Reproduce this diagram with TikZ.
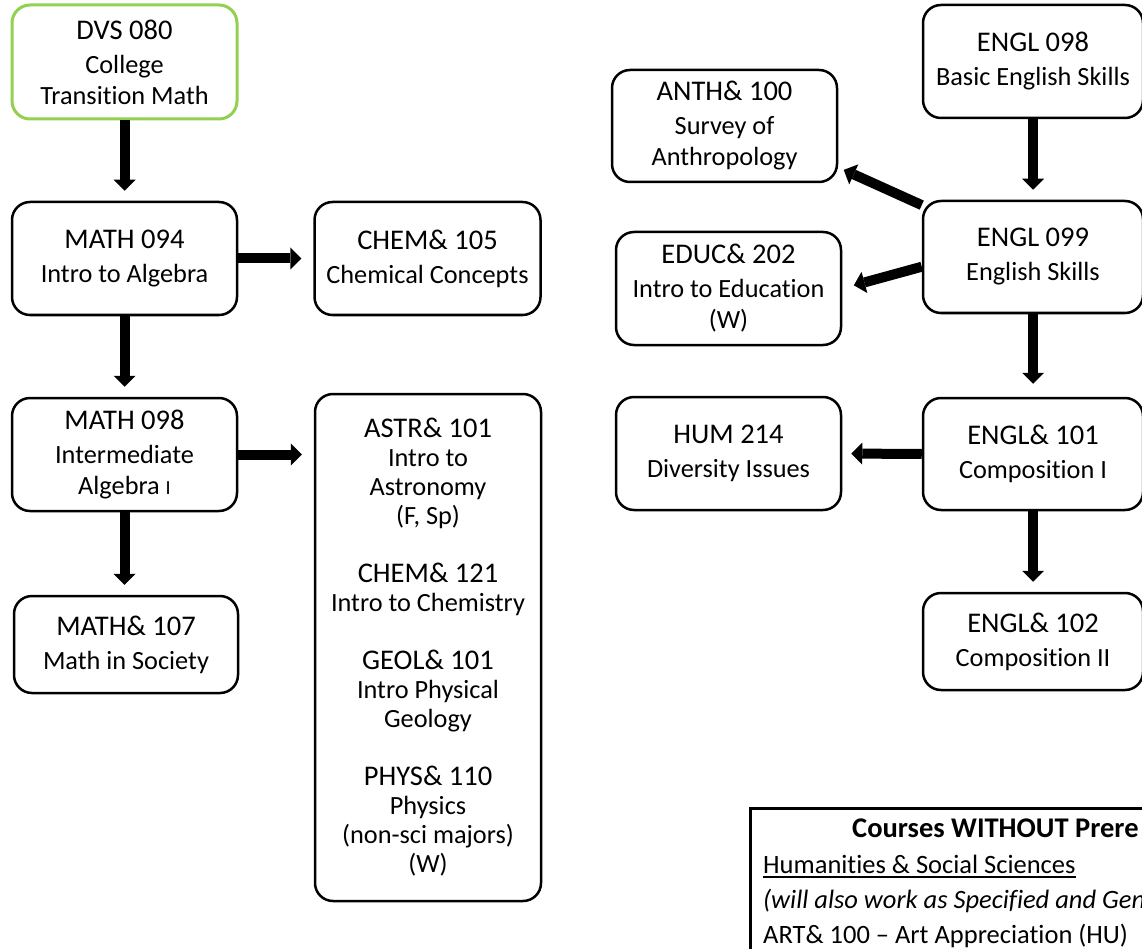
\documentclass[tikz,border=0pt]{standalone}
\usepackage{fontspec}
\setmainfont{Carlito}[Ligatures=NoCommon]
\usetikzlibrary{arrows.meta,calc}
\definecolor{lgreen}{HTML}{92D050}
\newcommand\ctitle[1]{{\fontsize{28.5}{34}\selectfont #1}\\[3pt]}
\begin{document}
\begin{tikzpicture}[x=1pt,y=-1pt,
  course/.style={draw, line width=2.5pt, rounded corners=18pt, align=center, inner sep=0pt,
    font=\fontsize{26.3}{31}\selectfont},
  arr/.style={line width=10pt, -{Triangle[width=22pt,length=11pt,line width=0pt]}, shorten >=10pt},
  plain/.style={anchor=base west, inner sep=0pt, font=\fontsize{26.5}{32}\selectfont}
]
\useasboundingbox (0,0) rectangle (1142,949);

% left column
\node[course, draw=lgreen, line width=3pt, minimum width=225pt, minimum height=114pt] (dvs) at (124.5,62)
  {\ctitle{DVS 080}College\\Transition Math};
\node[course, minimum width=225pt, minimum height=113pt] (m094) at (124.5,258.5)
  {\ctitle{MATH 094}Intro to Algebra};
\node[course, minimum width=225pt, minimum height=113pt] (m098) at (124.5,454.5)
  {\ctitle{MATH 098}Intermediate\\Algebra {\fontsize{20}{20}\selectfont I}};
\node[course, minimum width=224pt, minimum height=97pt] (m107) at (126,644.5)
  {\ctitle{MATH\& 107}Math in Society};

% middle column
\node[course, minimum width=226pt, minimum height=113pt] (chem) at (427.5,258.5)
  {\ctitle{CHEM\& 105}Chemical Concepts};
\node[course, minimum width=226pt, minimum height=507pt, font=\fontsize{26.3}{29}\selectfont] (astr) at (428,647.5)
  {{\fontsize{28.5}{29}\selectfont ASTR\& 101}\\Intro to\\Astronomy\\(F, Sp)\\[29pt]
   {\fontsize{28.5}{29}\selectfont CHEM\& 121}\\Intro to Chemistry\\[29pt]
   {\fontsize{28.5}{29}\selectfont GEOL\& 101}\\Intro Physical\\Geology\\[29pt]
   {\fontsize{28.5}{29}\selectfont PHYS\& 110}\\Physics\\(non-sci majors)\\(W)};

% right side
\node[course, minimum width=225pt, minimum height=112pt] (anth) at (724.5,126)
  {\ctitle{ANTH\& 100}Survey of\\Anthropology};
\node[course, minimum width=225pt, minimum height=113pt] (educ) at (728.5,288.5)
  {\ctitle{EDUC\& 202}Intro to Education\\(W)};
\node[course, minimum width=225pt, minimum height=113pt] (hum) at (728.5,453.5)
  {\ctitle{HUM 214}Diversity Issues};
\node[course, minimum width=220pt, minimum height=113pt] (e098) at (1033,61.5)
  {\ctitle{ENGL 098}Basic English Skills};
\node[course, minimum width=220pt, minimum height=112pt] (e099) at (1033,257)
  {\ctitle{ENGL 099}English Skills};
\node[course, minimum width=220pt, minimum height=112pt] (e101) at (1033,454)
  {\ctitle{ENGL\& 101}Composition I};
\node[course, minimum width=220pt, minimum height=97pt] (e102) at (1033,641.5)
  {\ctitle{ENGL\& 102}Composition II};

% connectors
\draw[arr] (dvs) -- (m094);
\draw[arr] (m094) -- (m098);
\draw[arr] (m098.south) -- (m098.south |- m107.north);
\draw[arr, shorten >=12pt] (m094.east) -- (chem.west);
\draw[arr, shorten >=12pt] (m098.east) -- (m098.east -| astr.west);
\draw[arr] (e098) -- (e099);
\draw[arr, shorten >=13pt] (e099) -- (e101);
\draw[arr] (e101) -- (e102);
\draw[arr, shorten >=6pt] (e099.155) -- (anth.-20);
\draw[arr, shorten >=12pt] (e099.185) -- (educ.east);
\draw[arr, shorten >=9pt] (e101.west) -- (hum.east);

% courses without prerequisites
\node[draw, line width=3pt, anchor=north west, minimum width=450pt, minimum height=170pt, inner sep=0pt] (nopre) at (749,807) {};
\node[plain, font=\fontsize{28.5}{34}\selectfont\bfseries] (nptitle) at (852,837) {Courses WITHOUT Prere};
\node[plain] (hss) at (763,873) {Humanities \& Social Sciences};
\draw[line width=1.8pt] ([yshift=-4pt]hss.base west) -- ([yshift=-4pt]hss.base east);
\node[plain, font=\fontsize{26.5}{32}\selectfont\itshape] (will) at (763,908) {(will also work as Specified and Gen};
\node[plain] (art) at (763,943) {ART\& 100 – Art Appreciation (HU)};
\end{tikzpicture}
\end{document}
